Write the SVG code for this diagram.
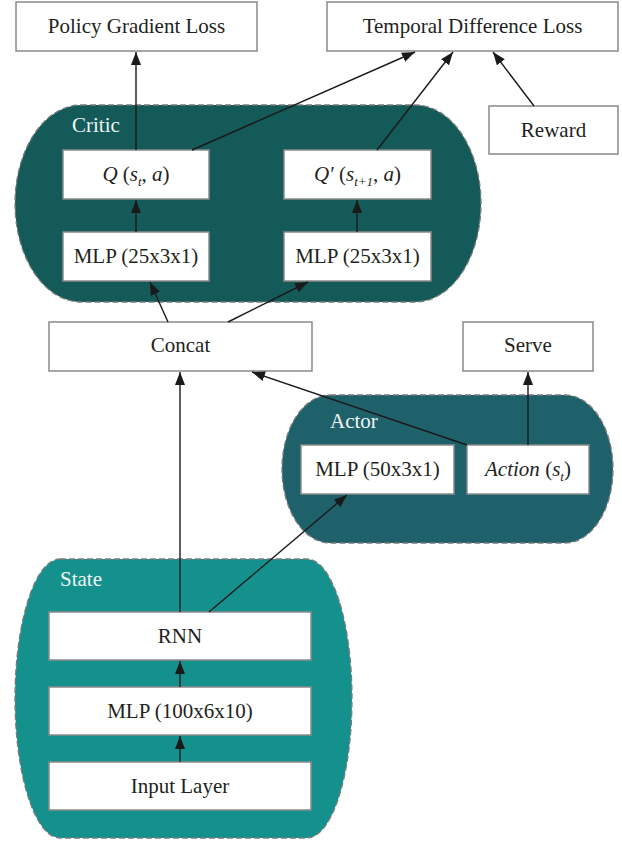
<svg xmlns="http://www.w3.org/2000/svg" width="622" height="842" viewBox="0 0 622 842">
<defs>
<style>
.box{fill:#ffffff;stroke:#8a8a8a;stroke-width:1.5}
.grp{stroke:#7a7a7a;stroke-width:1.3;stroke-dasharray:6 3}
.t{font-family:"Liberation Serif","Times New Roman",serif;font-size:21px;fill:#231f20;text-anchor:middle}
.gl{font-family:"Liberation Serif","Times New Roman",serif;font-size:21px;fill:#eef5f3}
.i{font-style:italic}
.sub{font-style:italic;font-size:13px}
.c line{stroke:#1a1a1a;stroke-width:1.4;marker-end:url(#ah)}
</style>
<marker id="ah" markerUnits="userSpaceOnUse" markerWidth="13" markerHeight="10" refX="13" refY="5" orient="auto">
<path d="M0,0 L13,5 L0,10 z" fill="#1a1a1a"/>
</marker>
</defs>
<rect width="622" height="842" fill="#ffffff"/>

<g id="critic-group">
<rect class="grp" x="15" y="105" width="466" height="197" rx="66" ry="98.5" fill="#135a59"/>
<text class="gl" x="72" y="132">Critic</text>
</g>
<g id="actor-group">
<rect class="grp" x="282" y="395" width="331" height="148" rx="48" ry="74" fill="#1f616b"/>
<text class="gl" x="330" y="428">Actor</text>
</g>
<g id="state-group">
<rect class="grp" x="15" y="559" width="337" height="279" rx="45" ry="139.5" fill="#15918d"/>
<text class="gl" x="60" y="586">State</text>
</g>

<g id="policy-loss">
<rect class="box" x="16" y="2" width="241" height="49"/>
<text class="t" x="136.5" y="33">Policy Gradient Loss</text>
</g>
<g id="td-loss">
<rect class="box" x="327" y="2" width="291" height="49"/>
<text class="t" x="472.5" y="33">Temporal Difference Loss</text>
</g>
<g id="reward">
<rect class="box" x="489" y="106" width="129" height="48"/>
<text class="t" x="553.5" y="137">Reward</text>
</g>
<g id="q">
<rect class="box" x="63" y="150" width="146" height="49"/>
<text class="t" x="136" y="181"><tspan class="i">Q</tspan> (<tspan class="i">s</tspan><tspan class="sub" dy="5">t</tspan><tspan dy="-5">, </tspan><tspan class="i">a</tspan>)</text>
</g>
<g id="q-prime">
<rect class="box" x="284" y="150" width="147" height="49"/>
<text class="t" x="357.5" y="181"><tspan class="i">Q′</tspan> (<tspan class="i">s</tspan><tspan class="sub" dy="5">t+1</tspan><tspan dy="-5">, </tspan><tspan class="i">a</tspan>)</text>
</g>
<g id="critic-mlp">
<rect class="box" x="63" y="232" width="146" height="49"/>
<text class="t" x="136" y="263">MLP (25x3x1)</text>
</g>
<g id="critic-mlp-prime">
<rect class="box" x="284" y="232" width="147" height="49"/>
<text class="t" x="357.5" y="263">MLP (25x3x1)</text>
</g>
<g id="concat">
<rect class="box" x="49" y="322" width="263" height="49"/>
<text class="t" x="180.5" y="352">Concat</text>
</g>
<g id="serve">
<rect class="box" x="463" y="322" width="130" height="49"/>
<text class="t" x="528" y="352">Serve</text>
</g>
<g id="actor-mlp">
<rect class="box" x="301" y="445" width="153" height="49"/>
<text class="t" x="377.5" y="476">MLP (50x3x1)</text>
</g>
<g id="action">
<rect class="box" x="467" y="445" width="122" height="49"/>
<text class="t" x="528" y="476"><tspan class="i">Action</tspan> (<tspan class="i">s</tspan><tspan class="sub" dy="5">t</tspan><tspan dy="-5">)</tspan></text>
</g>
<g id="rnn">
<rect class="box" x="49" y="612" width="262" height="48"/>
<text class="t" x="180" y="643">RNN</text>
</g>
<g id="state-mlp">
<rect class="box" x="49" y="687" width="262" height="48"/>
<text class="t" x="180" y="718">MLP (100x6x10)</text>
</g>
<g id="input-layer">
<rect class="box" x="49" y="762" width="262" height="48"/>
<text class="t" x="180" y="793">Input Layer</text>
</g>

<g id="connectors" class="c">
<line x1="136" y1="150" x2="136" y2="52"/>
<line x1="192" y1="150" x2="415" y2="52"/>
<line x1="377" y1="150" x2="453" y2="52"/>
<line x1="534" y1="106" x2="493" y2="52"/>
<line x1="136" y1="232" x2="136" y2="200"/>
<line x1="357" y1="232" x2="357" y2="200"/>
<line x1="168" y1="322" x2="150" y2="282"/>
<line x1="228" y1="322" x2="308" y2="282"/>
<line x1="467" y1="445" x2="252" y2="372"/>
<line x1="528" y1="445" x2="528" y2="372"/>
<line x1="180" y1="612" x2="180" y2="372"/>
<line x1="209" y1="612" x2="347" y2="495"/>
<line x1="180" y1="687" x2="180" y2="661"/>
<line x1="180" y1="762" x2="180" y2="736"/>
</g>
</svg>
